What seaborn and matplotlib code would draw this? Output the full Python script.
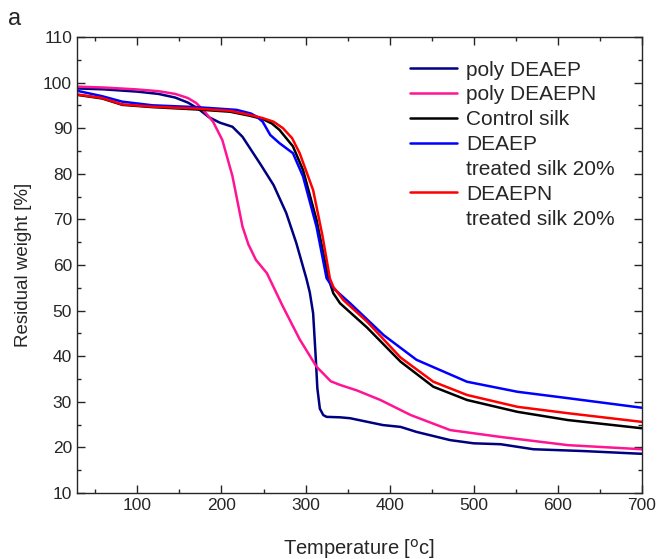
import pandas as pd
import matplotlib.pyplot as plt
import seaborn as sns
from matplotlib.lines import Line2D
from matplotlib.ticker import MultipleLocator

# ---------------------------------------------------------------
# data (temperature in C, residual weight %)
t_poly_deaep = [28, 60, 100, 125, 145, 160, 172, 185, 198, 213, 225, 236, 247, 262, 277,
                289, 301, 305, 309, 312, 314, 317, 321, 325, 341, 353, 392, 413, 432,
                472, 500, 532, 571, 631, 700]
w_poly_deaep = [98.7, 98.5, 98.0, 97.5, 96.7, 95.6, 94.3, 92.4, 91.2, 90.3, 88.1, 85.0,
                81.9, 77.5, 71.4, 64.8, 57.0, 54.0, 49.4, 40.0, 33.0, 28.5, 27.1, 26.7,
                26.6, 26.4, 24.9, 24.5, 23.4, 21.6, 20.9, 20.7, 19.6, 19.2, 18.6]

t_poly_deaepn = [28, 60, 98, 125, 145, 160, 170, 180, 190, 201, 213, 225, 232, 241, 254,
                 273, 293, 313, 330, 341, 361, 389, 425, 472, 532, 612, 700]
w_poly_deaepn = [99.1, 98.9, 98.5, 98.1, 97.5, 96.6, 95.5, 93.6, 91.4, 87.4, 79.5, 68.4,
                 64.5, 61.1, 58.2, 50.9, 43.7, 37.7, 34.5, 33.7, 32.5, 30.4, 27.1, 23.8,
                 22.3, 20.5, 19.6]

t_control = [28, 58, 82, 118, 170, 210, 234, 249, 260, 269, 285, 297, 313, 327, 333, 341,
             373, 413, 452, 492, 552, 612, 700]
w_control = [97.3, 96.5, 95.1, 94.6, 94.1, 93.6, 92.7, 92.0, 91.0, 89.6, 86.0, 80.8, 69.9,
             57.2, 53.8, 51.6, 46.3, 38.8, 33.3, 30.4, 27.8, 26.0, 24.2]

t_deaep_silk = [28, 58, 82, 118, 170, 218, 235, 242, 249, 258, 269, 285, 297, 313, 325,
                333, 353, 393, 432, 492, 552, 612, 700]
w_deaep_silk = [98.2, 97.0, 95.8, 95.0, 94.6, 94.0, 93.2, 92.5, 91.4, 88.5, 86.7, 84.5,
                79.4, 68.4, 57.1, 54.9, 51.6, 44.6, 39.2, 34.4, 32.2, 30.8, 28.7]

t_deaepn_silk = [28, 58, 82, 118, 170, 210, 234, 249, 262, 273, 284, 293, 309, 320, 329,
                 333, 345, 373, 413, 452, 492, 552, 612, 700]
w_deaepn_silk = [97.4, 96.6, 95.2, 94.7, 94.3, 93.8, 92.9, 92.2, 91.4, 90.0, 87.8, 84.5,
                 76.4, 66.5, 57.0, 55.2, 52.3, 47.6, 39.7, 34.4, 31.5, 28.9, 27.5, 25.6]

labels = ['poly DEAEP', 'poly DEAEPN', 'Control silk',
          'DEAEP\ntreated silk 20%', 'DEAEPN\ntreated silk 20%']
colors = ['#000080', '#ff1493', '#000000', '#0000ff', '#ff0000']

# ---------------------------------------------------------------
series = [(t_poly_deaep, w_poly_deaep), (t_poly_deaepn, w_poly_deaepn),
          (t_control, w_control), (t_deaep_silk, w_deaep_silk),
          (t_deaepn_silk, w_deaepn_silk)]
frames = []
for lab, (t, w) in zip(labels, series):
    frames.append(pd.DataFrame({'T': t, 'W': w, 'sample': lab}))
df = pd.concat(frames, ignore_index=True)

sns.set_style('ticks')
plt.rcParams['font.family'] = ['Liberation Sans', 'DejaVu Sans']

fig = plt.figure(figsize=(6.57, 5.59), dpi=100)
ax = fig.add_axes([0.117, 0.118, 0.860, 0.816])

sns.lineplot(data=df, x='T', y='W', hue='sample', hue_order=labels,
             palette=dict(zip(labels, colors)), sort=False, estimator=None,
             linewidth=1.8, legend=False, ax=ax)

ax.set_xlim(28, 700)
ax.set_ylim(10, 110)
ax.xaxis.set_major_locator(MultipleLocator(100))
ax.xaxis.set_minor_locator(MultipleLocator(50))
ax.yaxis.set_major_locator(MultipleLocator(10))
ax.yaxis.set_minor_locator(MultipleLocator(5))
ax.tick_params(which='both', direction='in', top=True, right=True, labelsize=12.5)
ax.tick_params(which='major', length=6, width=1)
ax.tick_params(which='minor', length=3, width=1)
for s in ax.spines.values():
    s.set_linewidth(1)

ax.set_xlabel('Temperature [$^{\\mathrm{o}}$c]', fontsize=14.5, labelpad=17)
ax.set_ylabel('Residual weight [%]', fontsize=13.5, labelpad=8)

# legend: handle next to the first line of each label, second line without handle
handles, texts = [], []
for lab, col in zip(labels, colors):
    parts = lab.split('\n')
    handles.append(Line2D([], [], color=col, lw=1.8))
    texts.append(parts[0])
    for extra in parts[1:]:
        handles.append(Line2D([], [], color='none'))
        texts.append(extra)
ax.legend(handles, texts, loc='upper left', bbox_to_anchor=(0.589, 0.948),
          frameon=False, fontsize=15, handlelength=2.25, handletextpad=0.45,
          labelspacing=0.28, borderpad=0, borderaxespad=0)

fig.text(0.012, 0.985, 'a', fontsize=17, va='top')

fig.savefig('out.png', dpi=100)
